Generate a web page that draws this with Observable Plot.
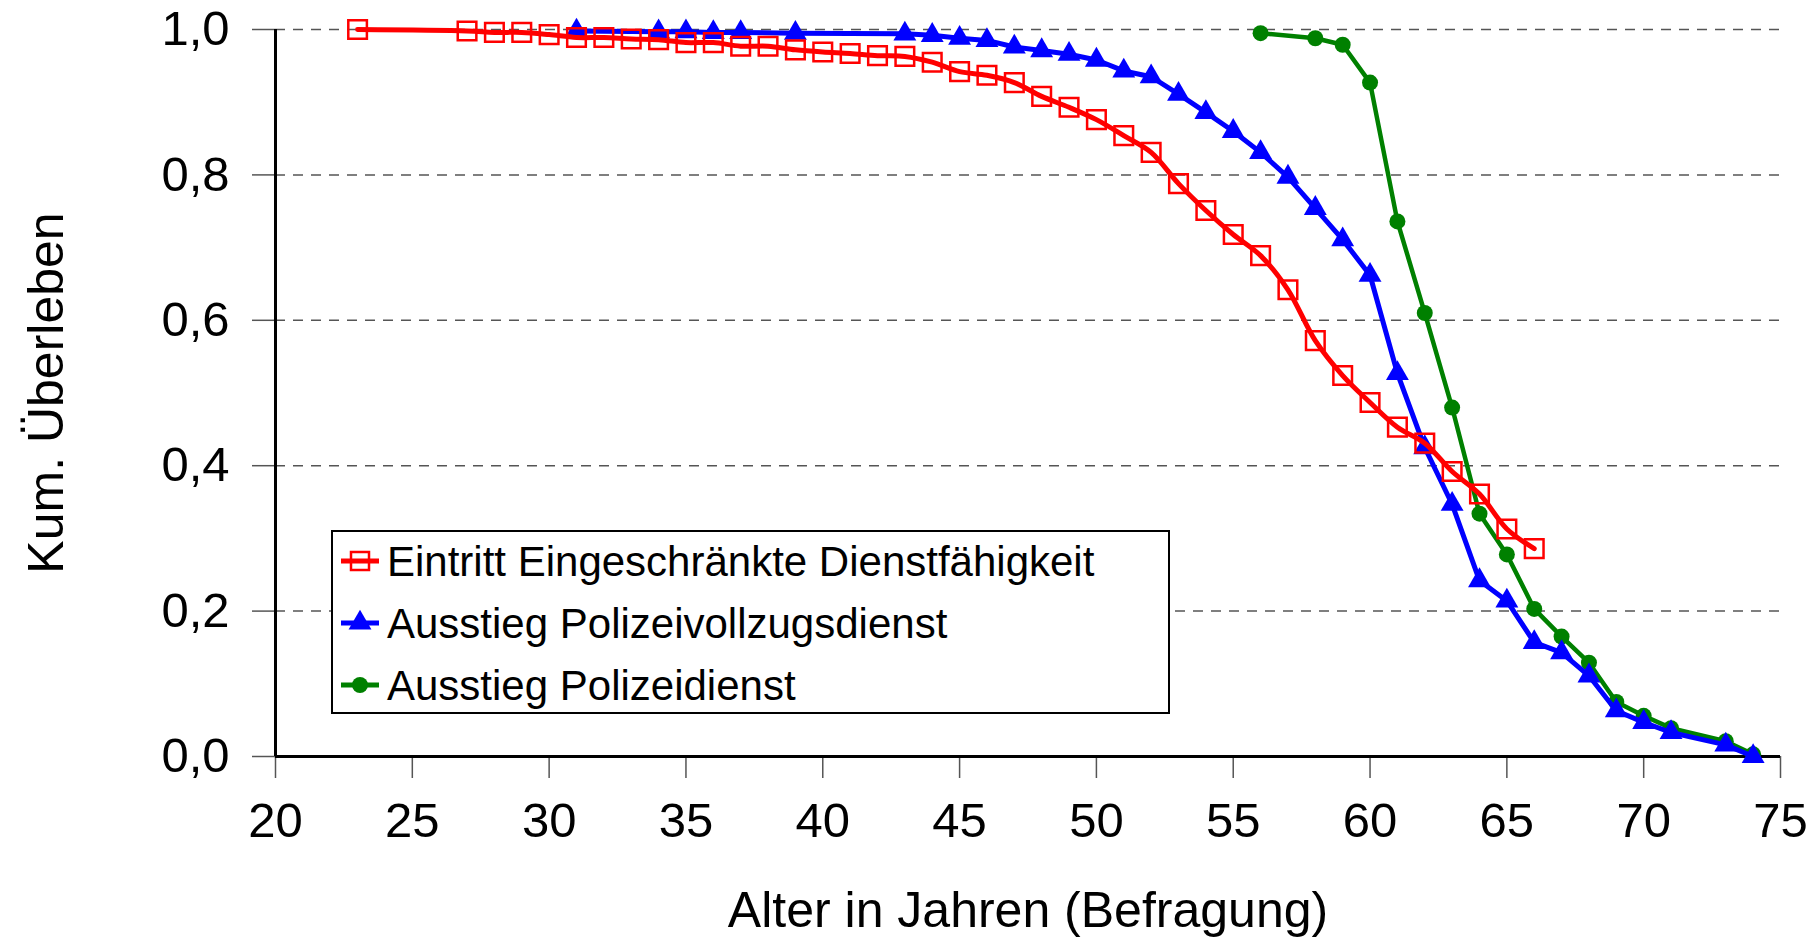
<!DOCTYPE html>
<html>
<head>
<meta charset="utf-8">
<script src="https://cdn.jsdelivr.net/npm/d3@7"></script>
<script src="https://cdn.jsdelivr.net/npm/@observablehq/plot@0.6"></script>
<style>
html, body { margin: 0; padding: 0; background: #fff; }
#wrap { position: relative; width: 1820px; height: 939px; font-family: "Liberation Sans", Arial, sans-serif; }
#legend { position: absolute; left: 331px; top: 530px; }
</style>
</head>
<body>
<div id="wrap"></div>
<script>
// ---- data ----
const seriesNames = ["Eintritt Eingeschränkte Dienstfähigkeit", "Ausstieg Polizeivollzugsdienst", "Ausstieg Polizeidienst"];
const seriesColors = ["#ff0000", "#0000ff", "#008000"];

const redAges = [23,27,28,29,30,31,32,33,34,35,36,37,38,39,40,41,42,43,44,45,46,47,48,49,50,51,52,53,54,55,56,57,58,59,60,61,62,63,64,65,66];
const redVals = [1.0,0.998,0.996,0.996,0.993,0.989,0.989,0.987,0.986,0.982,0.982,0.977,0.977,0.972,0.969,0.967,0.964,0.963,0.955,0.942,0.937,0.927,0.908,0.893,0.876,0.854,0.831,0.788,0.751,0.718,0.689,0.642,0.572,0.524,0.487,0.453,0.431,0.392,0.361,0.313,0.286];

const blueAges = [31,34,35,36,37,39,43,44,45,46,47,48,49,50,51,52,53,54,55,56,57,58,59,60,61,62,63,64,65,66,67,68,69,70,71,73,74];
const blueVals = [0.998,0.997,0.997,0.996,0.996,0.995,0.994,0.992,0.988,0.985,0.976,0.971,0.966,0.958,0.943,0.935,0.911,0.886,0.860,0.831,0.797,0.754,0.711,0.662,0.527,0.425,0.347,0.242,0.214,0.157,0.143,0.111,0.063,0.047,0.033,0.016,0.0];

const greenAges = [56,58,59,60,61,62,63,64,65,66,67,68,69,70,71,73,74];
const greenVals = [0.995,0.988,0.979,0.927,0.736,0.610,0.480,0.334,0.278,0.203,0.165,0.129,0.075,0.056,0.039,0.021,0.003];

const xDomain = [20, 75];
const yDomain = [0, 1];
const xTicks = [20,25,30,35,40,45,50,55,60,65,70,75];
const yTicks = [0,0.2,0.4,0.6,0.8,1.0];
const xTitle = "Alter in Jahren (Befragung)";
const yTitle = "Kum. Überleben";

// ---- tables ----
const red = redAges.map((a, i) => ({age: a, v: redVals[i]}));
const blue = blueAges.map((a, i) => ({age: a, v: blueVals[i]}));
const green = greenAges.map((a, i) => ({age: a, v: greenVals[i]}));
const fmt = d => d.toFixed(1).replace(".", ",");
const FONT = '"Liberation Sans", Arial, sans-serif';

const chart = Plot.plot({
  width: 1820,
  height: 939,
  marginLeft: 275,
  marginRight: 40,
  marginTop: 29,
  marginBottom: 183,
  style: {fontFamily: FONT, fontSize: "48px", background: "white", color: "black", overflow: "visible"},
  x: {domain: xDomain},
  y: {domain: yDomain},
  marks: [
    Plot.gridY(yTicks.filter(d => d > 0), {stroke: "#555", strokeOpacity: 1, strokeWidth: 1.5, strokeDasharray: "10,8"}),
    Plot.axisY({ticks: yTicks, tickFormat: fmt, tickSize: 23, tickPadding: 23, stroke: "#555", strokeWidth: 1.5, fontSize: 49, label: null}),
    Plot.axisX({ticks: xTicks, tickFormat: d => String(d), tickSize: 22, tickPadding: 24, stroke: "#555", strokeWidth: 1.5, fontSize: 49, label: null}),
    Plot.ruleX([xDomain[0]], {stroke: "black", strokeWidth: 3}),
    Plot.ruleY([yDomain[0]], {stroke: "black", strokeWidth: 3}),
    Plot.line(green, {x: "age", y: "v", stroke: seriesColors[2], strokeWidth: 4.5}),
    Plot.dot(green, {x: "age", y: "v", r: 8, fill: seriesColors[2], stroke: null}),
    Plot.line(blue, {x: "age", y: "v", stroke: seriesColors[1], strokeWidth: 5}),
    Plot.dot(blue, {x: "age", y: "v", symbol: "triangle", r: 8.5, fill: seriesColors[1], stroke: null}),
    Plot.dot(red, {x: "age", y: "v", symbol: "square", r: 10.5, fill: "none", stroke: seriesColors[0], strokeWidth: 2.5}),
    Plot.line(red, {x: "age", y: "v", stroke: seriesColors[0], strokeWidth: 5, curve: "catmull-rom"}),
    Plot.text([xTitle], {text: d => d, frameAnchor: "bottom", textAnchor: "middle", lineAnchor: "top", dy: 135, fontSize: 50, fill: "black"}),
    Plot.text([yTitle], {text: d => d, frameAnchor: "left", textAnchor: "middle", lineAnchor: "middle", rotate: -90, dx: -229, fontSize: 50, fill: "black"})
  ]
});

const wrap = document.getElementById("wrap");
wrap.appendChild(chart);

// ---- legend (overlay inside plot area) ----
const lw = 839, lh = 184;
const ns = "http://www.w3.org/2000/svg";
const leg = document.createElementNS(ns, "svg");
leg.setAttribute("id", "legend");
leg.setAttribute("width", lw);
leg.setAttribute("height", lh);
leg.style.position = "absolute";
leg.style.left = "331px";
leg.style.top = "530px";
let html = `<rect x="1" y="1" width="${lw-2}" height="${lh-2}" fill="white" stroke="black" stroke-width="2"/>`;
const rowY = [31, 93, 155];
seriesNames.forEach((name, i) => {
  const cy = rowY[i], c = seriesColors[i];
  html += `<line x1="10" x2="48" y1="${cy}" y2="${cy}" stroke="${c}" stroke-width="5"/>`;
  if (i === 0) html += `<rect x="${29-9}" y="${cy-9}" width="18" height="18" fill="none" stroke="${c}" stroke-width="2.5"/>`;
  if (i === 1) html += `<path d="${d3.symbol(d3.symbolTriangle, Math.PI*8.5*8.5)()}" transform="translate(29,${cy})" fill="${c}"/>`;
  if (i === 2) html += `<circle cx="29" cy="${cy}" r="8" fill="${c}"/>`;
  html += `<text x="56" y="${cy + 15}" font-family='${FONT}' font-size="42" fill="black">${name}</text>`;
});
leg.innerHTML = html;
wrap.appendChild(leg);
</script>
</body>
</html>
